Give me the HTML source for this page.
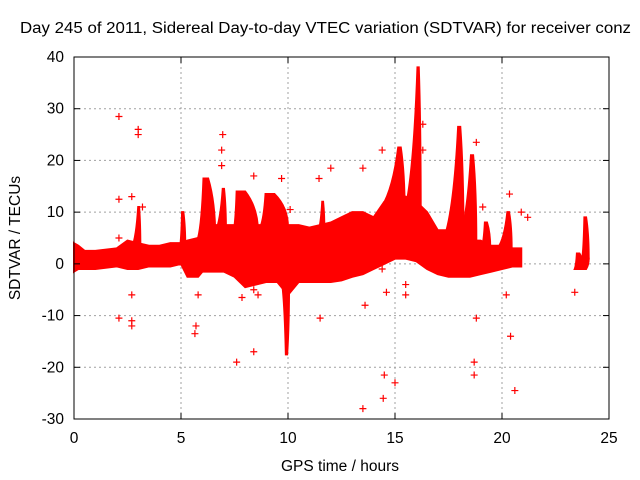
<!DOCTYPE html>
<html><head><meta charset="utf-8"><style>
body{margin:0;background:#fff}
svg{display:block;font-family:"Liberation Sans",sans-serif}
</style></head><body>
<svg id="chart" width="640" height="480" viewBox="0 0 640 480" xmlns="http://www.w3.org/2000/svg">
<rect width="640" height="480" fill="#fff"/>
<text x="20" y="33" font-size="15.5" textLength="611" lengthAdjust="spacingAndGlyphs" fill="#000">Day 245 of 2011, Sidereal Day-to-day VTEC variation (SDTVAR) for receiver conz</text>
<text x="340" y="471" font-size="15.5" text-anchor="middle" fill="#000">GPS time / hours</text>
<text x="0" y="0" font-size="15.5" text-anchor="middle" fill="#000" transform="translate(20,238) rotate(-90)">SDTVAR / TECUs</text>
<g id="grid"></g><g id="marks"></g><g id="axes"></g>
</svg>
<script>
const xTicks=[0,5,10,15,20,25];
const yTicks=[-30,-20,-10,0,10,20,30,40];
// main band envelope
const bandHours=[0,0.2,0.5,1,2,2.5,3,3.5,4,4.5,5,5.3,5.8,6,6.5,7,7.5,8,8.5,9,9.5,10,10.5,11,11.5,12,12.5,13,13.5,14,14.5,15,15.5,16,16.5,17,17.5,18,18.5,19,19.5,20,20.5,20.9];
const bandUpper=[4,3.5,2.5,2.5,3,4.5,4,3.5,3.5,4,4,4.5,5,7,7.5,7.5,7.5,7.5,7.5,7.5,7.5,7.5,7.5,7,7.5,8,9,10,10,9,12,13,13,12,10,6.5,6.5,5,4.5,4.5,3.5,3.5,3,3];
const bandLower=[-1.5,-1,-1,-1,-0.5,-1,-1,-0.5,-0.5,-0.5,0,-2.5,-2.5,-1.5,-1.5,-1.5,-2.5,-4.5,-4,-3.5,-3.5,-6,-3.5,-3.5,-3.5,-3.5,-3.2,-2.5,-2,-1,0,1,1,0.5,-1,-2,-2.5,-2.5,-2.5,-2,-1.5,-1,-0.5,-0.5];
// spikes: start hour, peak hour, end hour, peak value, base value
const spikeStart=[2.7,4.95,5.8,6.6,7.45,8.7,9.7,11.4,14.2,15.45,17.3,17.95,19.05,19.8,23.4,23.75,23.75];
const spikePeak=[3.0,5.05,6.05,6.95,7.6,8.95,9.9,11.6,15.15,16.05,17.95,18.55,19.2,20.25,23.5,23.85,23.85];
const spikeEnd=[3.1,5.2,6.6,7.1,8.6,10.0,10.05,11.7,15.45,16.2,18.2,18.8,19.45,20.45,23.8,24.05,24.05];
const spikeValue=[11,10,16.5,14.5,14,13.5,-17.5,12,22.5,38,26.5,21,8,10,2,9,-1];
const spikeBase=[3,3,5,6,6,7,-3,6,10,10,5,4,3,3,-1,1,1];
// outlier points
const outHours=[2.1,3.0,3.0,2.1,2.1,2.7,3.2,2.1,2.7,2.7,2.7,5.8,5.7,5.65,6.9,6.95,6.9,7.6,8.4,8.4,9.7,10.1,8.4,8.6,7.85,11.45,11.5,12.0,13.5,13.6,13.5,14.4,14.5,14.45,15.0,14.6,14.4,15.5,15.5,18.8,18.7,18.8,18.7,20.4,20.35,20.6,20.9,21.2,23.4,16.3,16.3,19.1,20.2];
const outValues=[28.5,26,25,12.5,5,13,11,-10.5,-11,-12,-6,-6,-12,-13.5,22,25,19,-19,17,-17,16.5,10.5,-5,-6,-6.5,16.5,-10.5,18.5,18.5,-8,-28,22,-21.5,-26,-23,-5.5,-1,-4,-6,23.5,-21.5,-10.5,-19,-14,13.5,-24.5,10,9,-5.5,27,22,11,-6];
const L=74,R=609,T=57,B=419;
const sx=h=>L+(h-0)/25*(R-L);
const sy=v=>T+(40-v)/70*(B-T);
const NS="http://www.w3.org/2000/svg";
function mk(tag,attrs,parent){const e=document.createElementNS(NS,tag);for(const k in attrs)e.setAttribute(k,attrs[k]);parent.appendChild(e);return e;}
const grid=document.getElementById('grid'),marks=document.getElementById('marks'),axes=document.getElementById('axes');
xTicks.forEach(t=>{
  if(t>0&&t<25){const g=mk('line',{x1:sx(t),x2:sx(t),y1:T,y2:B,stroke:'#a0a0a0','stroke-dasharray':'2,3'},grid);
  
  }
  const tx=mk('text',{x:sx(t),y:B+24,'font-size':15.5,'text-anchor':'middle',fill:'#000'},axes);tx.textContent=t;
  
  
  mk('line',{x1:sx(t),x2:sx(t),y1:B,y2:B-6,stroke:'#000'},axes);
  mk('line',{x1:sx(t),x2:sx(t),y1:T,y2:T+6,stroke:'#000'},axes);
});
yTicks.forEach(t=>{
  if(t>-30&&t<40){const g=mk('line',{x1:L,x2:R,y1:sy(t),y2:sy(t),stroke:'#a0a0a0','stroke-dasharray':'2,3'},grid);
  
  }
  const tx=mk('text',{x:L-10,y:sy(t)+5,'font-size':15.5,'text-anchor':'end',fill:'#000'},axes);tx.textContent=t;
  
  
  mk('line',{x1:L,x2:L+6,y1:sy(t),y2:sy(t),stroke:'#000'},axes);
  mk('line',{x1:R,x2:R-6,y1:sy(t),y2:sy(t),stroke:'#000'},axes);
});
const frame=mk('rect',{x:L,y:T,width:R-L,height:B-T,fill:'none',stroke:'#000'},axes);


// band
let pts=bandHours.map((h,i)=>sx(h)+','+sy(bandUpper[i]));
for(let i=bandHours.length-1;i>=0;i--)pts.push(sx(bandHours[i])+','+sy(bandLower[i]));
const band=mk('polygon',{points:pts.join(' '),fill:'#ff0000',stroke:'#ff0000','stroke-width':2},marks);


// spikes
spikeStart.forEach((s,i)=>{
  const p=spikePeak[i],e=spikeEnd[i],v=spikeValue[i],b=spikeBase[i];
  const d='M'+sx(s)+','+sy(b)+' Q'+sx(p-(p-s)*0.3)+','+sy(b+(v-b)*0.25)+' '+sx(p)+','+sy(v)+' L'+sx(p+(e-p)*0.4)+','+sy(v)+' Q'+sx(e)+','+sy(b+(v-b)*0.6)+' '+sx(e)+','+sy(b)+' Z';
  const sp=mk('path',{d:d,fill:'#ff0000',stroke:'#ff0000','stroke-width':2},marks);
  
  
});
// outliers
outHours.forEach((h,i)=>{
  const x=sx(h),y=sy(outValues[i]);
  const pt=mk('path',{d:'M'+(x-3.5)+','+y+'h7M'+x+','+(y-3.5)+'v7',stroke:'#ff0000','stroke-width':1.2,fill:'none'},marks);
  
  
});
</script>
</body></html>
